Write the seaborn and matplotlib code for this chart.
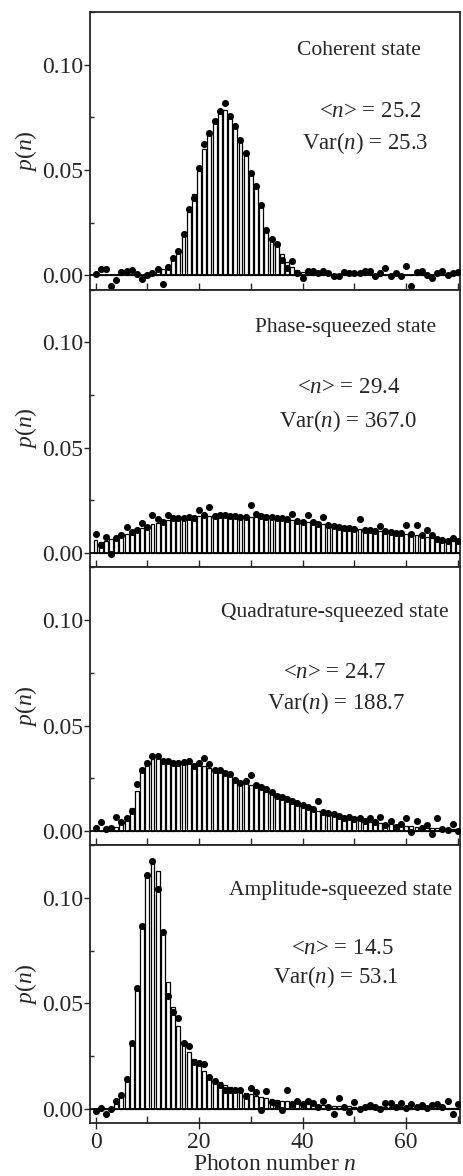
import numpy as np
import pandas as pd
import matplotlib
matplotlib.use("Agg")
import matplotlib.pyplot as plt
from matplotlib.ticker import MultipleLocator, FormatStrFormatter
import seaborn as sns

# photon numbers (x categories)
photon_n = np.arange(71)

states = ["Coherent state", "Phase-squeezed state",
          "Quadrature-squeezed state", "Amplitude-squeezed state"]
mean_n = ["25.2", "29.4", "24.7", "14.5"]
var_n = ["25.3", "367.0", "188.7", "53.1"]

# theory (bars) and measured (dots), n = 0..70
coherent_theory = [
    0, 0, 0, 0, 0, 0, 0, 0, 0, 0,
    0.0005, 0.0010, 0.0020, 0.0030, 0.0050, 0.0087, 0.0122, 0.0194, 0.0300, 0.0384,
    0.0495, 0.0598, 0.0678, 0.0741, 0.0778, 0.0785, 0.0757, 0.0710, 0.0641, 0.0583,
    0.0487, 0.0420, 0.0330, 0.0225, 0.0175, 0.0146, 0.0100, 0.0065, 0.0040, 0.0025,
    0.0015, 0.0010, 0.0005, 0, 0, 0, 0, 0, 0, 0,
    0, 0, 0, 0, 0, 0, 0, 0, 0, 0,
    0, 0, 0, 0, 0, 0, 0, 0, 0, 0,
    0]
coherent_meas = [
    0.0006, 0.0030, 0.0030, -0.0050, -0.0020, 0.0015, 0.0020, 0.0027, 0.0006, -0.0016,
    0.0000, 0.0010, 0.0030, -0.0040, 0.0040, 0.0083, 0.0118, 0.0197, 0.0313, 0.0368,
    0.0508, 0.0622, 0.0678, 0.0733, 0.0778, 0.0817, 0.0757, 0.0710, 0.0641, 0.0583,
    0.0487, 0.0424, 0.0333, 0.0217, 0.0175, 0.0150, 0.0075, 0.0035, 0.0067, 0.0010,
    -0.0013, 0.0022, 0.0022, 0.0011, 0.0022, 0.0011, -0.0005, -0.0005, 0.0016, 0.0011,
    0.0011, 0.0011, 0.0019, 0.0022, -0.0005, 0.0011, 0.0035, -0.0005, 0.0011, -0.0005,
    0.0043, -0.0048, 0.0016, 0.0022, 0.0000, -0.0013, 0.0011, 0.0022, 0.0003, 0.0011,
    0.0016]

phase_theory = [
    0.0062, 0.0055, 0.0060, 0.0066, 0.0075, 0.0085, 0.0092, 0.0100, 0.0112, 0.0120,
    0.0128, 0.0136, 0.0142, 0.0150, 0.0156, 0.0160, 0.0164, 0.0167, 0.0170, 0.0172,
    0.0174, 0.0175, 0.0176, 0.0177, 0.0178, 0.0178, 0.0177, 0.0176, 0.0175, 0.0174,
    0.0173, 0.0172, 0.0170, 0.0168, 0.0166, 0.0164, 0.0162, 0.0160, 0.0157, 0.0154,
    0.0151, 0.0148, 0.0145, 0.0141, 0.0137, 0.0133, 0.0129, 0.0125, 0.0122, 0.0119,
    0.0116, 0.0113, 0.0111, 0.0109, 0.0107, 0.0105, 0.0103, 0.0101, 0.0098, 0.0095,
    0.0092, 0.0089, 0.0086, 0.0082, 0.0078, 0.0073, 0.0068, 0.0064, 0.0061, 0.0059,
    0.0058]
phase_meas = [
    0.0093, 0.0040, 0.0077, -0.0005, 0.0070, 0.0085, 0.0122, 0.0098, 0.0110, 0.0144,
    0.0125, 0.0183, 0.0160, 0.0148, 0.0183, 0.0165, 0.0168, 0.0166, 0.0172, 0.0168,
    0.0207, 0.0180, 0.0220, 0.0178, 0.0182, 0.0180, 0.0178, 0.0175, 0.0172, 0.0170,
    0.0227, 0.0185, 0.0176, 0.0172, 0.0170, 0.0168, 0.0166, 0.0160, 0.0185, 0.0152,
    0.0150, 0.0180, 0.0146, 0.0140, 0.0170, 0.0135, 0.0128, 0.0124, 0.0120, 0.0118,
    0.0115, 0.0160, 0.0110, 0.0108, 0.0105, 0.0130, 0.0104, 0.0100, 0.0097, 0.0094,
    0.0133, 0.0090, 0.0133, 0.0085, 0.0112, 0.0085, 0.0068, 0.0062, 0.0060, 0.0074,
    0.0058]

quadrature_theory = [
    0.0000, 0.0000, 0.0003, 0.0008, 0.0020, 0.0040, 0.0050, 0.0107, 0.0188, 0.0297,
    0.0332, 0.0340, 0.0350, 0.0338, 0.0328, 0.0325, 0.0324, 0.0322, 0.0322, 0.0316,
    0.0315, 0.0310, 0.0300, 0.0290, 0.0282, 0.0272, 0.0262, 0.0252, 0.0238, 0.0228,
    0.0218, 0.0208, 0.0198, 0.0188, 0.0178, 0.0168, 0.0158, 0.0148, 0.0138, 0.0128,
    0.0120, 0.0110, 0.0102, 0.0094, 0.0088, 0.0082, 0.0076, 0.0070, 0.0065, 0.0060,
    0.0056, 0.0052, 0.0048, 0.0044, 0.0040, 0.0037, 0.0034, 0.0031, 0.0028, 0.0026,
    0.0024, 0.0022, 0.0020, 0.0018, 0.0016, 0.0015, 0.0013, 0.0012, 0.0011, 0.0010,
    0.0009]
quadrature_meas = [
    0.0016, 0.0040, 0.0008, 0.0016, 0.0067, 0.0040, 0.0060, 0.0096, 0.0223, 0.0290,
    0.0324, 0.0356, 0.0356, 0.0330, 0.0330, 0.0322, 0.0322, 0.0326, 0.0330, 0.0310,
    0.0322, 0.0348, 0.0316, 0.0287, 0.0287, 0.0275, 0.0268, 0.0240, 0.0227, 0.0235,
    0.0267, 0.0220, 0.0210, 0.0200, 0.0184, 0.0165, 0.0160, 0.0150, 0.0140, 0.0130,
    0.0125, 0.0112, 0.0105, 0.0144, 0.0090, 0.0085, 0.0082, 0.0072, 0.0060, 0.0068,
    0.0058, 0.0062, 0.0045, 0.0060, 0.0040, 0.0066, 0.0030, 0.0045, 0.0020, 0.0035,
    0.0060, -0.0005, 0.0045, 0.0015, 0.0030, -0.0017, 0.0060, 0.0010, 0.0005, 0.0035,
    0.0000]

amplitude_theory = [
    0.0000, 0.0000, 0.0000, 0.0005, 0.0020, 0.0055, 0.0150, 0.0310, 0.0573, 0.0866,
    0.1100, 0.1180, 0.1130, 0.0840, 0.0600, 0.0480, 0.0390, 0.0320, 0.0270, 0.0235,
    0.0205, 0.0180, 0.0160, 0.0142, 0.0127, 0.0114, 0.0102, 0.0092, 0.0083, 0.0075,
    0.0068, 0.0061, 0.0055, 0.0050, 0.0045, 0.0041, 0.0037, 0.0034, 0.0031, 0.0028,
    0.0025, 0.0023, 0.0021, 0.0019, 0.0017, 0.0016, 0.0014, 0.0013, 0.0012, 0.0011,
    0.0010, 0.0009, 0.0009, 0.0008, 0.0008, 0.0007, 0.0007, 0.0006, 0.0006, 0.0006,
    0.0005, 0.0005, 0.0005, 0.0004, 0.0004, 0.0004, 0.0004, 0.0003, 0.0003, 0.0003,
    0.0003]
amplitude_meas = [
    -0.0011, 0.0002, -0.0027, 0.0000, 0.0038, 0.0065, 0.0140, 0.0310, 0.0573, 0.0867,
    0.1108, 0.1176, 0.1040, 0.0838, 0.0535, 0.0460, 0.0430, 0.0310, 0.0295, 0.0222,
    0.0216, 0.0210, 0.0150, 0.0130, 0.0113, 0.0090, 0.0090, 0.0090, 0.0090, 0.0060,
    0.0098, 0.0080, -0.0005, 0.0083, 0.0030, 0.0020, -0.0006, 0.0088, 0.0020, 0.0035,
    0.0020, 0.0038, 0.0025, 0.0010, 0.0038, 0.0010, -0.0027, 0.0049, 0.0010, -0.0017,
    0.0033, 0.0000, 0.0010, 0.0015, 0.0010, 0.0000, 0.0025, 0.0025, 0.0010, 0.0025,
    0.0005, 0.0020, 0.0010, 0.0015, 0.0005, 0.0015, 0.0020, 0.0010, 0.0037, -0.0025,
    0.0020]

theory = [coherent_theory, phase_theory, quadrature_theory, amplitude_theory]
measured = [coherent_meas, phase_meas, quadrature_meas, amplitude_meas]

# text placement (axes fraction): title, <n> line, Var line
text_pos = [
    [(0.727, 0.863), (0.757, 0.640), (0.743, 0.527)],
    [(0.691, 0.863), (0.700, 0.647), (0.696, 0.529)],
    [(0.662, 0.838), (0.662, 0.622), (0.666, 0.511)],
    [(0.678, 0.838), (0.681, 0.629), (0.664, 0.525)],
]

sns.set_style("ticks")
plt.rcParams["font.family"] = ["Liberation Serif", "DejaVu Serif"]
plt.rcParams["mathtext.fontset"] = "custom"
plt.rcParams["mathtext.rm"] = "Liberation Serif"
plt.rcParams["mathtext.it"] = "Liberation Serif:italic"
plt.rcParams["axes.linewidth"] = 1.3

fig, axes = plt.subplots(4, 1, sharex=True, figsize=(4.63, 11.76), dpi=100)
fig.subplots_adjust(left=0.194, right=0.9935, top=0.9898, bottom=0.0451, hspace=0)

for i, ax in enumerate(axes):
    df = pd.DataFrame({"n": photon_n, "theory": theory[i], "measured": measured[i]})
    sns.barplot(data=df, x="n", y="theory", native_scale=True, width=0.75,
                color="white", saturation=1, edgecolor="black", linewidth=0.9,
                errorbar=None, ax=ax, zorder=2)
    ax.axhline(0, color="black", lw=1.3, zorder=3)
    sns.scatterplot(data=df, x="n", y="measured", color="black", s=26,
                    edgecolor="black", linewidth=0, ax=ax, zorder=4)

    ax.set_xlim(-1.1, 70.4)
    ax.set_ylim(-0.0068, 0.125)
    ax.yaxis.set_major_locator(MultipleLocator(0.05))
    ax.yaxis.set_minor_locator(MultipleLocator(0.025))
    ax.yaxis.set_major_formatter(FormatStrFormatter("%.2f"))
    ax.xaxis.set_major_locator(MultipleLocator(20))
    ax.xaxis.set_minor_locator(MultipleLocator(10))
    ax.tick_params(axis="y", which="major", direction="out", length=4, width=1,
                   labelsize=17, pad=1)
    ax.tick_params(axis="y", which="minor", direction="in", length=3, width=1)
    ax.tick_params(axis="x", which="both", direction="in", length=5, width=1,
                   labelsize=17, top=False)
    if i == 3:
        ax.tick_params(axis="x", which="major", direction="inout", length=9, pad=2)
    ax.set_ylabel("$p(n)$", fontsize=17, labelpad=2)
    ax.set_xlabel("")

    (tx, ty), (mx, my), (vx, vy) = text_pos[i]
    ax.text(tx, ty, states[i], transform=ax.transAxes, ha="center", va="center",
            fontsize=15.5)
    ax.text(mx, my, "<$n$> = " + mean_n[i], transform=ax.transAxes, ha="center",
            va="center", fontsize=16.5)
    ax.text(vx, vy, "Var($n$) = " + var_n[i], transform=ax.transAxes, ha="center",
            va="center", fontsize=16.5)

axes[-1].set_xlabel("Photon number $n$", fontsize=17, labelpad=1)

plt.savefig("out.png", dpi=100)
plt.close()
